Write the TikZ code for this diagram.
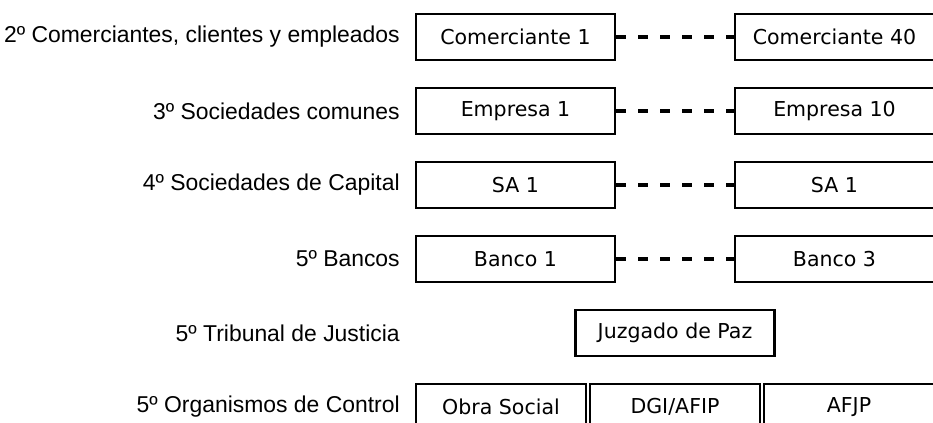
\documentclass[tikz,border=0pt]{standalone}
\usepackage{fontspec}
\setmainfont{Liberation Sans}
\newfontfamily\cajafont{DejaVu Sans}
\tikzset{
  nivel/.style={anchor=east, inner sep=0pt, font=\fontsize{16.3}{19}\selectfont},
  caja/.style={draw, line width=1.5pt, minimum width=4.975cm, minimum height=1.15cm,
    inner sep=0pt, font=\cajafont\fontsize{14.6}{17}\selectfont},
  cajita/.style={caja, minimum width=4.25cm},
  puntos/.style={line width=2.4pt, dash pattern=on 0.25cm off 0.3cm}
}
\begin{document}
\begin{tikzpicture}
\useasboundingbox (0,0) rectangle (23.325,-10.575);
\clip (0,0) rectangle (23.325,-10.575);
%niveles
\node[nivel] (n2) at (10,-0.925) {2º Comerciantes, clientes y empleados};
\node[nivel] (n3) at (10,-2.775) {3º Sociedades comunes};
\node[nivel] (n4) at (10,-4.625) {4º Sociedades de Capital};
\node[nivel] (n5) at (10,-6.475) {5º Bancos};
\node[nivel] (n6) at (10,-8.325) {5º Tribunal de Justicia};
\node[nivel] (n7) at (10,-10.175) {5º Organismos de Control};
%cajas
\node[caja] (com1)  at (12.8875,-0.925) {Comerciante 1};
\node[caja] (com40) at (20.8625,-0.925) {Comerciante 40};
\node[caja] (emp1)  at (12.8875,-2.775) {Empresa 1};
\node[caja] (emp10) at (20.8625,-2.775) {Empresa 10};
\node[caja] (sa1)   at (12.8875,-4.625) {SA 1};
\node[caja] (saN)   at (20.8625,-4.625) {SA 1};
\node[caja] (ban1)  at (12.8875,-6.475) {Banco 1};
\node[caja] (ban3)  at (20.8625,-6.475) {Banco 3};
\node[caja] (juz)   at (16.875,-8.325) {Juzgado de Paz};
\node[cajita] (obra) at (12.525,-10.175) {Obra Social};
\node[cajita] (dgi)  at (16.875,-10.175) {DGI/AFIP};
\node[cajita] (afjp) at (21.225,-10.175) {AFJP};
%lineas
\draw[puntos] (com1.east) -- (com40.west);
\draw[puntos] (emp1.east) -- (emp10.west);
\draw[puntos] (sa1.east) -- (saN.west);
\draw[puntos] (ban1.east) -- (ban3.west);
\end{tikzpicture}
\end{document}
